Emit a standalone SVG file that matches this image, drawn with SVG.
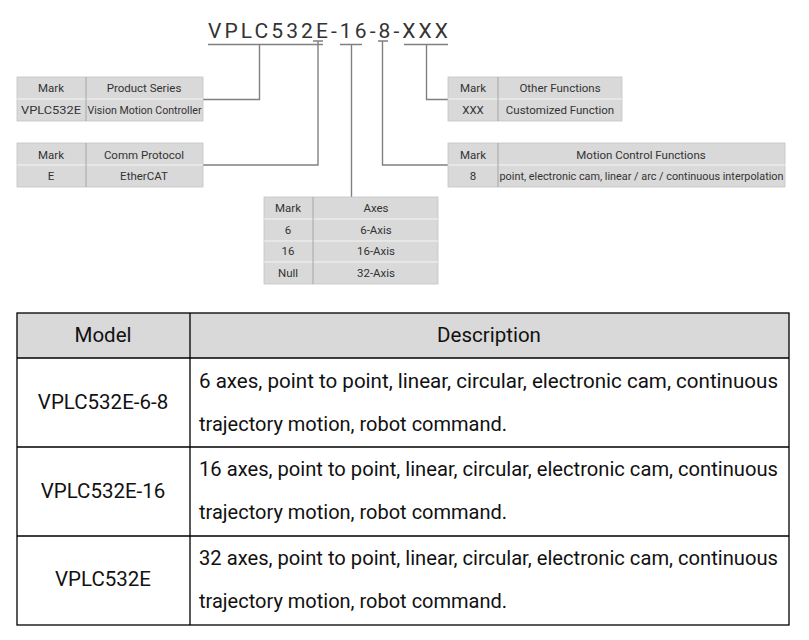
<svg xmlns="http://www.w3.org/2000/svg" width="809" height="640" viewBox="0 0 809 640">
<style>
text{font-family:Roboto,"Liberation Sans",sans-serif;fill:#333;}
.s{font-size:11.5px;text-anchor:middle;}
.cell{fill:#d9d9d9;stroke:#c4c4c4;stroke-width:0.8;}
.rowl{stroke:#f4f4f4;stroke-width:1;}
.coll{stroke:#a6a6a6;stroke-width:1;}
.con{fill:none;stroke:#808080;stroke-width:1.4;}
.bt{fill:none;stroke:#000;stroke-width:1.3;}
.b{font-size:20px;fill:#111;}
.bc{font-size:20.5px;fill:#111;text-anchor:middle;}
</style>
<rect width="809" height="640" fill="#fff"/>
<g id="title">
<text x="208" y="38" font-size="21" textLength="240" lengthAdjust="spacing">VPLC532E-16-8-XXX</text>
</g>
<g id="connectors">
<path class="con" d="M208,44.5H323M313,41H323M340,44.5H362M378,41H388M404,44.5H448"/>
<path class="con" d="M259.5,44.5V99.5H203"/>
<path class="con" d="M318,41V165H203"/>
<path class="con" d="M351.5,44.5V197"/>
<path class="con" d="M382.5,41V165H448"/>
<path class="con" d="M426.5,44.5V99.5H448"/>
</g>
<g id="product-series">
<rect class="cell" x="17" y="77" width="186" height="44"/>
<line class="rowl" x1="17" y1="99" x2="203" y2="99"/>
<line class="coll" x1="86" y1="77" x2="86" y2="121"/>
<text class="s" x="51" y="92">Mark</text>
<text class="s" x="144" y="92">Product Series</text>
<text class="s" x="51" y="114" textLength="60" lengthAdjust="spacingAndGlyphs">VPLC532E</text>
<text class="s" x="144.5" y="114" textLength="114" lengthAdjust="spacingAndGlyphs">Vision Motion Controller</text>
</g>
<g id="comm-protocol">
<rect class="cell" x="17" y="143" width="186" height="44"/>
<line class="rowl" x1="17" y1="165" x2="203" y2="165"/>
<line class="coll" x1="86" y1="143" x2="86" y2="187"/>
<text class="s" x="51" y="159">Mark</text>
<text class="s" x="144" y="159">Comm Protocol</text>
<text class="s" x="51" y="180">E</text>
<text class="s" x="144" y="180">EtherCAT</text>
</g>
<g id="other-functions">
<rect class="cell" x="448" y="77" width="174" height="44"/>
<line class="rowl" x1="448" y1="99" x2="622" y2="99"/>
<line class="coll" x1="498" y1="77" x2="498" y2="121"/>
<text class="s" x="473" y="92">Mark</text>
<text class="s" x="560" y="92">Other Functions</text>
<text class="s" x="473" y="114">XXX</text>
<text class="s" x="560" y="114">Customized Function</text>
</g>
<g id="motion-control">
<rect class="cell" x="448" y="143" width="337" height="44"/>
<line class="rowl" x1="448" y1="165" x2="785" y2="165"/>
<line class="coll" x1="498" y1="143" x2="498" y2="187"/>
<text class="s" x="473" y="159">Mark</text>
<text class="s" x="641" y="159">Motion Control Functions</text>
<text class="s" x="473" y="180">8</text>
<text class="s" x="641.5" y="180" textLength="284" lengthAdjust="spacingAndGlyphs">point, electronic cam, linear / arc / continuous interpolation</text>
</g>
<g id="axes">
<rect class="cell" x="264" y="197" width="174" height="87"/>
<line class="rowl" x1="264" y1="219" x2="438" y2="219"/>
<line class="rowl" x1="264" y1="241" x2="438" y2="241"/>
<line class="rowl" x1="264" y1="262" x2="438" y2="262"/>
<line class="coll" x1="313" y1="197" x2="313" y2="284"/>
<text class="s" x="288" y="212">Mark</text>
<text class="s" x="376" y="212">Axes</text>
<text class="s" x="288" y="234">6</text>
<text class="s" x="376" y="234">6-Axis</text>
<text class="s" x="288" y="255">16</text>
<text class="s" x="376" y="255">16-Axis</text>
<text class="s" x="288" y="277">Null</text>
<text class="s" x="376" y="277">32-Axis</text>
</g>
<g id="model-table">
<rect x="17" y="313" width="772" height="45" fill="#d9d9d9"/>
<rect class="bt" x="17" y="313" width="772" height="312"/>
<path class="bt" d="M17,358H789M17,447H789M17,536H789M190,313V625"/>
<text class="bc" x="103" y="342">Model</text>
<text class="bc" x="489" y="342">Description</text>
<text class="bc" x="103" y="409">VPLC532E-6-8</text>
<text class="b" x="199" y="388" textLength="579" lengthAdjust="spacingAndGlyphs">6 axes, point to point, linear, circular, electronic cam, continuous</text>
<text class="b" x="199" y="431">trajectory motion, robot command.</text>
<text class="bc" x="103" y="498">VPLC532E-16</text>
<text class="b" x="199" y="476" textLength="579" lengthAdjust="spacingAndGlyphs">16 axes, point to point, linear, circular, electronic cam, continuous</text>
<text class="b" x="199" y="519">trajectory motion, robot command.</text>
<text class="bc" x="103" y="586">VPLC532E</text>
<text class="b" x="199" y="565" textLength="579" lengthAdjust="spacingAndGlyphs">32 axes, point to point, linear, circular, electronic cam, continuous</text>
<text class="b" x="199" y="608">trajectory motion, robot command.</text>
</g>
</svg>
